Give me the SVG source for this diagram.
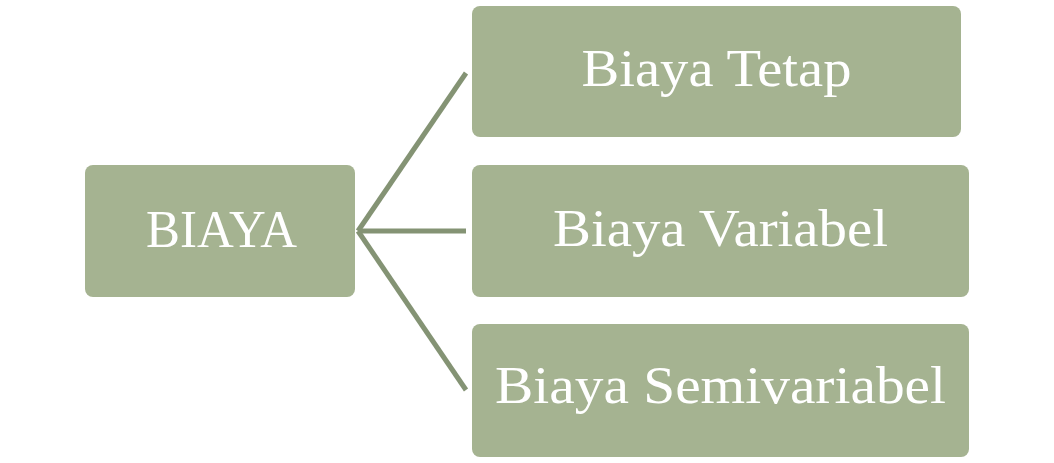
<svg xmlns="http://www.w3.org/2000/svg" width="1054" height="463" viewBox="0 0 1054 463">
<style>
.box{fill:#a5b391}
.lbl{font-family:"Liberation Serif","Times New Roman",serif;font-size:53px;fill:#ffffff;text-anchor:middle}
.conn{stroke:#849374;stroke-width:5;fill:none;stroke-linecap:butt}
</style>
<rect width="1054" height="463" fill="#ffffff"/>
<g id="connectors">
<line class="conn" x1="358" y1="231" x2="466" y2="73"/>
<line class="conn" x1="358" y1="231" x2="466" y2="231"/>
<line class="conn" x1="358" y1="231" x2="466" y2="390"/>
</g>
<g id="biaya">
<rect class="box" x="85" y="165" width="270" height="132" rx="8"/>
<text class="lbl" x="221.5" y="246.5" textLength="151" lengthAdjust="spacingAndGlyphs">BIAYA</text>
</g>
<g id="biaya-tetap">
<rect class="box" x="472" y="6" width="489" height="131" rx="8"/>
<text class="lbl" x="716.5" y="86" textLength="270" lengthAdjust="spacingAndGlyphs">Biaya Tetap</text>
</g>
<g id="biaya-variabel">
<rect class="box" x="472" y="165" width="497" height="132" rx="8"/>
<text class="lbl" x="720.5" y="246" textLength="335" lengthAdjust="spacingAndGlyphs">Biaya Variabel</text>
</g>
<g id="biaya-semivariabel">
<rect class="box" x="472" y="324" width="497" height="133" rx="8"/>
<text class="lbl" x="720.5" y="403" textLength="451" lengthAdjust="spacingAndGlyphs">Biaya Semivariabel</text>
</g>
</svg>
